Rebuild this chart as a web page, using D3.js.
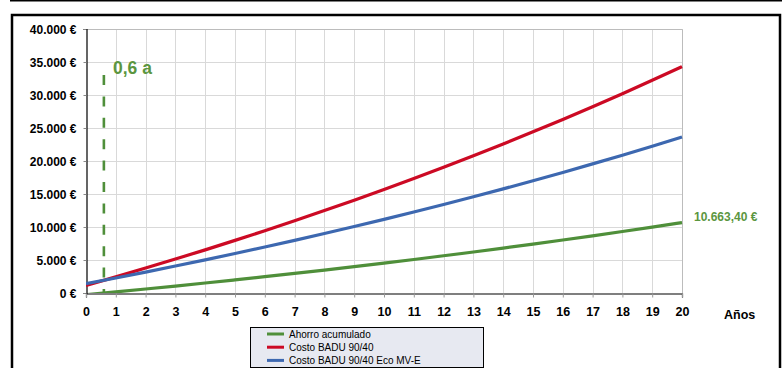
<!DOCTYPE html>
<html>
<head>
<meta charset="utf-8">
<script src="https://cdn.jsdelivr.net/npm/d3@7"></script>
<style>
  html, body { margin: 0; padding: 0; background: #fff; }
  svg { display: block; font-family: "Liberation Sans", Arial, sans-serif; }
</style>
</head>
<body>
<svg id="chart" width="782" height="368"></svg>
<script>
// Years on the horizontal axis
const years = d3.range(0, 21);

// Accumulated cost per year (€)
const costoBadu = [1150, 2448, 3778, 5141, 6538, 7971, 9439, 10944, 12486, 14067, 15688,
  17349, 19051, 20796, 22585, 24419, 26298, 28224, 30199, 32223, 34295];
const costoEco = [1410, 2280, 3172, 4086, 5022, 5982, 6967, 7976, 9010, 10069, 11156,
  12269, 13411, 14581, 15780, 17009, 18269, 19560, 20884, 22241, 23632];
// Accumulated savings (€)
const ahorro = [-260, 168, 606, 1055, 1516, 1989, 2472, 2968, 3476, 3998, 4532,
  5080, 5640, 6215, 6805, 7410, 8029, 8664, 9315, 9982, 10663.40];

const yTicks = [0, 5000, 10000, 15000, 20000, 25000, 30000, 35000, 40000];
const seriesNames = ["Ahorro acumulado", "Costo BADU 90/40", "Costo BADU 90/40 Eco MV-E"];
const payback = 0.6;
const paybackLabel = "0,6 a";
const xTitle = "Años";

const colors = { green: "#4f8f3a", red: "#cc0a24", blue: "#3d68b0" };

const svg = d3.select("#chart");
const m = { left: 86, right: 682, top: 29, bottom: 293 };

const x = d3.scaleLinear().domain([0, 20]).range([m.left, m.right]);
const y = d3.scaleLinear().domain([0, 40000]).range([m.bottom, m.top]);

const fmtNum = d3.formatLocale({ decimal: ",", thousands: ".", grouping: [3], currency: ["", " €"] });
const fmtInt = fmtNum.format(",.0f");
const fmtDec = fmtNum.format(",.2f");

// Page frame lines
svg.append("line").attr("x1", 10).attr("x2", 782).attr("y1", 0.5).attr("y2", 0.5)
  .attr("stroke", "#000").attr("stroke-width", 2);
svg.append("rect").attr("x", 12).attr("y", 15).attr("width", 768).attr("height", 380)
  .attr("fill", "none").attr("stroke", "#000").attr("stroke-width", 2.5);

// Grid
const grid = svg.append("g").attr("stroke", "#d9d9d9").attr("stroke-width", 1);
grid.selectAll("line.v").data(years.slice(1)).join("line")
  .attr("x1", d => Math.round(x(d)) + 0.5).attr("x2", d => Math.round(x(d)) + 0.5)
  .attr("y1", m.top).attr("y2", m.bottom);
grid.selectAll("line.h").data(yTicks.slice(1)).join("line")
  .attr("x1", m.left).attr("x2", m.right)
  .attr("y1", d => Math.round(y(d)) + 0.5).attr("y2", d => Math.round(y(d)) + 0.5);
// plot border (top/right)
svg.append("path")
  .attr("d", `M${m.left},${m.top + 0.5}H${m.right + 0.5}V${m.bottom}`)
  .attr("fill", "none").attr("stroke", "#bcbcbc");

// Axes
const yAxis = d3.axisLeft(y).tickValues(yTicks).tickSize(3).tickPadding(7)
  .tickFormat(d => fmtInt(d) + " €");
const gy = svg.append("g").attr("transform", `translate(${m.left + 0.5},0)`).call(yAxis);
gy.select(".domain").attr("stroke", "#000");
gy.selectAll(".tick line").attr("stroke", "#888");
gy.selectAll("text").attr("font-size", 12).attr("font-weight", "bold").attr("fill", "#000")
  .attr("font-family", "Liberation Sans, Arial, sans-serif").attr("dy", "0.36em");

const xAxis = d3.axisBottom(x).tickValues(years).tickSize(4).tickPadding(10).tickFormat(d3.format("d"));
const gx = svg.append("g").attr("transform", `translate(0,${m.bottom + 0.5})`).call(xAxis);
gx.select(".domain").attr("stroke", "#000");
gx.selectAll(".tick line").attr("stroke", "#999");
gx.selectAll("text").attr("font-size", 12.5).attr("font-weight", "bold").attr("fill", "#000")
  .attr("font-family", "Liberation Sans, Arial, sans-serif");
svg.selectAll(".domain").attr("stroke-width", 1.2);

svg.append("text").attr("x", 724).attr("y", 319).text(xTitle)
  .attr("font-size", 12.5).attr("font-weight", "bold");

// Lines
svg.append("clipPath").attr("id", "plotClip").append("rect")
  .attr("x", m.left).attr("y", m.top - 5).attr("width", m.right - m.left + 5).attr("height", m.bottom - m.top + 5);

const line = d3.line().x((d, i) => x(years[i])).y(d => y(d)).curve(d3.curveMonotoneX);
const lines = svg.append("g").attr("clip-path", "url(#plotClip)");
[[ahorro, colors.green], [costoBadu, colors.red], [costoEco, colors.blue]].forEach(([vals, c]) => {
  lines.append("path").datum(vals).attr("d", line)
    .attr("fill", "none").attr("stroke", c).attr("stroke-width", 3.2);
});

// Payback marker
svg.append("line").attr("x1", x(payback)).attr("x2", x(payback))
  .attr("y1", 75).attr("y2", m.bottom)
  .attr("stroke", colors.green).attr("stroke-width", 2.6).attr("stroke-dasharray", "10,11.4");
svg.append("text").attr("x", 113).attr("y", 73.5).text(paybackLabel)
  .attr("font-size", 17.5).attr("font-weight", "bold").attr("fill", "#5b9640");

// End value of savings
svg.append("text").attr("x", 694).attr("y", 221).text(fmtDec(ahorro[ahorro.length - 1]) + " €")
  .attr("font-size", 12).attr("font-weight", "bold").attr("fill", "#5b9640");

// Legend
const lg = svg.append("g");
lg.append("rect").attr("x", 250.5).attr("y", 327.5).attr("width", 233).attr("height", 40)
  .attr("fill", "#e7e9f1").attr("stroke", "#000").attr("stroke-width", 1);
const legendColors = [colors.green, colors.red, colors.blue];
seriesNames.forEach((name, i) => {
  const cy = 334 + i * 13.2;
  lg.append("line").attr("x1", 267).attr("x2", 284).attr("y1", cy).attr("y2", cy)
    .attr("stroke", legendColors[i]).attr("stroke-width", 3);
  lg.append("text").attr("x", 289).attr("y", cy).attr("dy", "0.35em").text(name)
    .attr("font-size", 10).attr("fill", "#000");
});
</script>
</body>
</html>
